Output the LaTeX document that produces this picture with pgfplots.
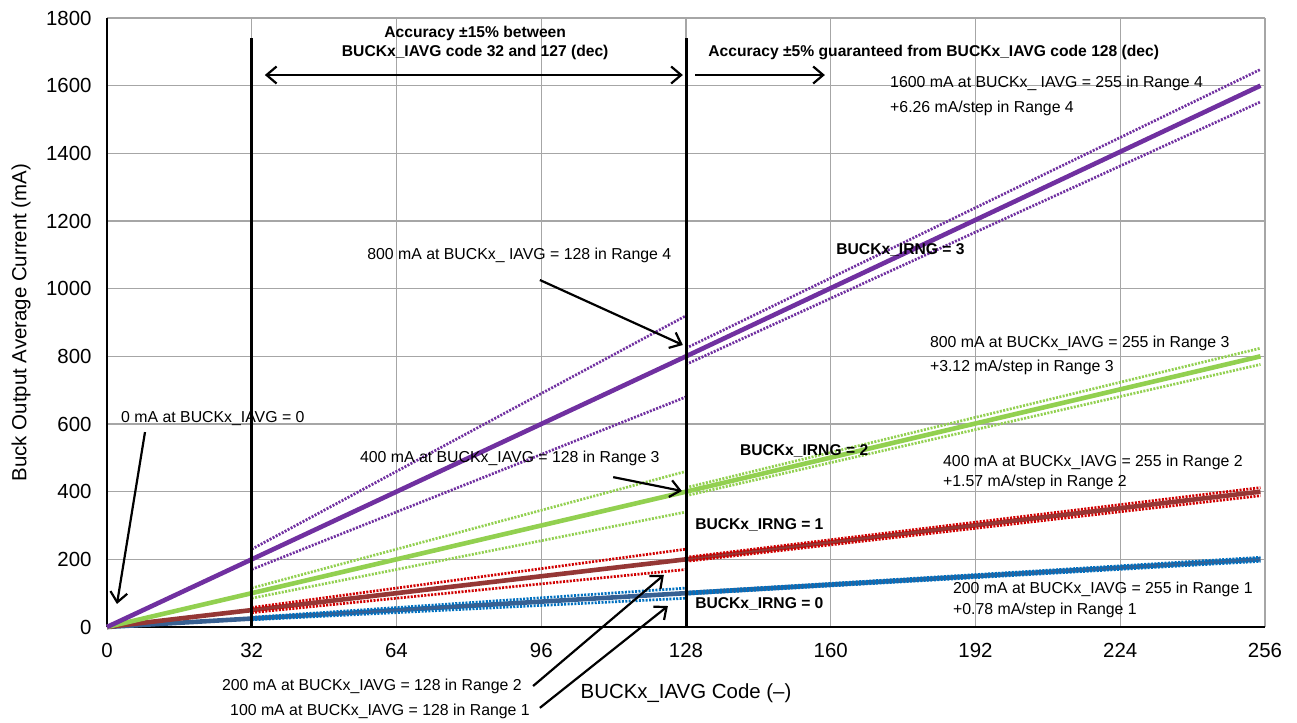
\documentclass[border=0pt]{standalone}
\usepackage{pgfplots}
\pgfplotsset{compat=1.18}
\usepackage{fontspec}
\setmainfont{Liberation Sans}
\usetikzlibrary{arrows.meta}
\definecolor{cpurple}{HTML}{7030A0}
\definecolor{cgreen}{HTML}{92D050}
\definecolor{cbrown}{HTML}{953735}
\definecolor{cred}{HTML}{D00000}
\definecolor{cdblue}{HTML}{376092}
\definecolor{cblue}{HTML}{0070C0}
\definecolor{cgrid}{HTML}{A6A6A6}
\tikzset{
  ann/.style={font=\fontsize{15.9}{19}\selectfont, inner sep=0pt},
  annb/.style={font=\fontsize{15.7}{19.5}\selectfont\bfseries, inner sep=0pt},
  arr/.style={-{Straight Barb[length=10bp,width=17bp]}, line width=2.2bp, black},
  dots/.style={line width=2.7bp, dash pattern=on 2bp off 1.4bp},
  mainl/.style={line width=4.6bp}
}
\begin{document}
\begin{tikzpicture}
\begin{axis}[
  scale only axis, width=1158bp, height=609bp,
  xmin=0, xmax=256, ymin=0, ymax=1800,
  xtick={0,32,...,256}, ytick={0,200,...,1800},
  grid=major, major grid style={draw=cgrid, line width=1.4bp},
  axis x line*=bottom, axis y line*=left,
  axis line style={black, line width=2.6bp},
  major tick length=0pt,
  ticklabel style={font=\fontsize{20.5}{24}\selectfont},
  xticklabel style={yshift=-13bp},
  yticklabel style={xshift=-12bp},
  /pgf/number format/assume math mode=true,
  /pgf/number format/1000 sep={},
  xlabel={BUCKx\_IAVG Code (–)},
  ylabel={Buck Output Average Current (mA)},
  label style={font=\fontsize{20.5}{24}\selectfont},
  xlabel style={at={(rel axis cs:0.5,0)}, anchor=center, yshift=-66bp},
  ylabel style={at={(rel axis cs:0,0.5)}, anchor=center, yshift=86bp},
  clip=false,
]
\coordinate (bl) at (rel axis cs:0,0);
% main lines
\addplot[cdblue, mainl] coordinates {(0,0) (128,100) (255,200)};
\addplot[cbrown, mainl] coordinates {(0,0) (128,200) (255,400)};
\addplot[cgreen, mainl] coordinates {(0,0) (128,400) (255,800)};
\addplot[cpurple, mainl] coordinates {(0,0) (128,800) (255,1600)};
% tolerance bands, blue
\addplot[cblue, dots] coordinates {(32,28.75) (128,115)};
\addplot[cblue, dots] coordinates {(32,21.25) (128,85)};
\addplot[cblue, dots] coordinates {(128,103) (255,206)};
\addplot[cblue, dots] coordinates {(128,97) (255,194)};
% red
\addplot[cred, dots] coordinates {(32,57.5) (128,230)};
\addplot[cred, dots] coordinates {(32,42.5) (128,170)};
\addplot[cred, dots] coordinates {(128,206) (255,412)};
\addplot[cred, dots] coordinates {(128,194) (255,388)};
% green
\addplot[cgreen, dots] coordinates {(32,115) (128,460)};
\addplot[cgreen, dots] coordinates {(32,85) (128,340)};
\addplot[cgreen, dots] coordinates {(128,412) (255,824)};
\addplot[cgreen, dots] coordinates {(128,388) (255,776)};
% purple
\addplot[cpurple, dots] coordinates {(32,230) (128,920)};
\addplot[cpurple, dots] coordinates {(32,170) (128,680)};
\addplot[cpurple, dots] coordinates {(128,824) (255,1648)};
\addplot[cpurple, dots] coordinates {(128,776) (255,1552)};
% vertical boundaries
\addplot[black, line width=3bp] coordinates {(32,0) (32,1741)};
\addplot[black, line width=3bp] coordinates {(128,0) (128,1741)};

% header annotations
\node[annb, align=center, anchor=center] at (axis cs:81.4,1726) {Accuracy ±15\% between\\BUCKx\_IAVG code 32 and 127 (dec)};
\draw[{Straight Barb[length=10bp,width=17bp]}-{Straight Barb[length=10bp,width=17bp]}, line width=2.2bp] (axis cs:34.9,1631.5) -- (axis cs:127.3,1631.5);
\node[annb, anchor=west] at (axis cs:132.9,1696.6) {Accuracy ±5\% guaranteed from BUCKx\_IAVG code 128 (dec)};
\draw[arr] (axis cs:130,1631.5) -- (axis cs:158.7,1631.5);

% right annotations
\node[ann, anchor=west] at (axis cs:173.1,1608) {1600 mA at BUCKx\_ IAVG = 255 in Range 4};
\node[ann, anchor=west] at (axis cs:173.1,1534) {+6.26 mA/step in Range 4};
\node[annb, anchor=west] at (axis cs:161.2,1114) {BUCKx\_IRNG = 3};
\node[ann, anchor=west] at (axis cs:181.9,839) {800 mA at BUCKx\_IAVG = 255 in Range 3};
\node[ann, anchor=west] at (axis cs:181.9,768.5) {+3.12 mA/step in Range 3};
\node[annb, anchor=west] at (axis cs:139.9,520) {BUCKx\_IRNG = 2};
\node[ann, anchor=west] at (axis cs:184.8,487.7) {400 mA at BUCKx\_IAVG = 255 in Range 2};
\node[ann, anchor=west] at (axis cs:184.8,428.6) {+1.57 mA/step in Range 2};
\node[annb, anchor=west] at (axis cs:130,301.5) {BUCKx\_IRNG = 1};
\node[annb, anchor=west] at (axis cs:130,68) {BUCKx\_IRNG = 0};
\node[ann, anchor=west] at (axis cs:187,112.3) {200 mA at BUCKx\_IAVG = 255 in Range 1};
\node[ann, anchor=west] at (axis cs:187,50.2) {+0.78 mA/step in Range 1};

% left annotations with arrows
\node[ann, anchor=west] at (axis cs:57.5,1099.5) {800 mA at BUCKx\_ IAVG = 128 in Range 4};
\draw[arr] (axis cs:95.7,1025.6) -- (axis cs:127.3,833.5);
\node[ann, anchor=west] at (axis cs:3.1,614.8) {0 mA at BUCKx\_IAVG = 0};
\draw[arr] (axis cs:8.4,576) -- (axis cs:2.2,68);
\node[ann, anchor=west] at (axis cs:55.9,499.5) {400 mA at BUCKx\_IAVG = 128 in Range 3};
\draw[arr] (axis cs:111.9,443) -- (axis cs:127.1,402);
\node[ann, anchor=west] at (axis cs:25.4,-174.4) {200 mA at BUCKx\_IAVG = 128 in Range 2};
\draw[arr] (axis cs:94.2,-174.4) -- (axis cs:123.1,153.7);
\node[ann, anchor=west] at (axis cs:27.2,-248.3) {100 mA at BUCKx\_IAVG = 128 in Range 1};
\draw[arr] (axis cs:95.7,-239) -- (axis cs:124,62);
\end{axis}
\pgfresetboundingbox
\path (bl) ++(-107bp,-96bp) rectangle ++(1297bp,723bp);
\end{tikzpicture}
\end{document}
